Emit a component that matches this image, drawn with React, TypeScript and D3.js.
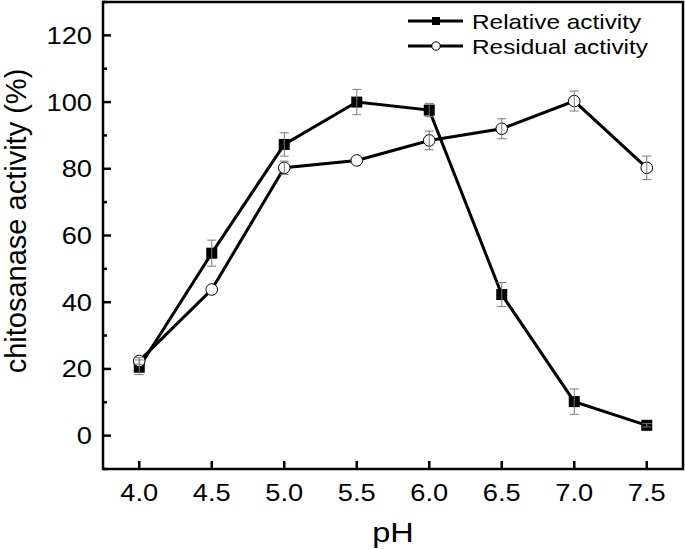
import React from "react";
import * as d3 from "d3";

const phValues = [4.0, 4.5, 5.0, 5.5, 6.0, 6.5, 7.0, 7.5];
const relativeActivity = [20.5, 54.7, 87.3, 100, 97.6, 42.3, 10.2, 3.1];
const relativeError = [2.2, 3.9, 3.5, 3.8, 2.0, 3.6, 3.8, 0.5];
const residualActivity = [22.4, 43.8, 80.3, 82.5, 88.5, 92.0, 100.3, 80.3];
const residualError = [1.0, 0, 2.0, 0, 2.8, 3.0, 3.0, 3.5];
const yTicks = [0, 20, 40, 60, 80, 100, 120];
const xTicks = [4.0, 4.5, 5.0, 5.5, 6.0, 6.5, 7.0, 7.5];

const W = 685;
const H = 549;
const margin = { top: 2, right: 2, bottom: 80, left: 103 };
const FONT = "Arial, 'Liberation Sans', sans-serif";
const SX = 1.16; // text in the picture is a bit wider than tall

export default function App() {
  const x = d3
    .scaleLinear()
    .domain([3.75, 7.75])
    .range([margin.left, W - margin.right]);
  const y = d3
    .scaleLinear()
    .domain([-10, 130])
    .range([H - margin.bottom, margin.top]);

  const line = d3
    .line<number>()
    .x((_, i) => x(phValues[i]))
    .y(d => y(d));

  const minorY = d3.range(-10, 131, 10).filter(v => v % 20 !== 0);

  const errBars = (vals: number[], errs: number[]) =>
    vals.map((v, i) => {
      if (!errs[i]) return null;
      const cx = x(phValues[i]);
      const t = y(v + errs[i]);
      const b = y(v - errs[i]);
      return (
        <g key={i} stroke="#7a7a7a" strokeWidth={1}>
          <line x1={cx} x2={cx} y1={t} y2={b} />
          <line x1={cx - 4.5} x2={cx + 4.5} y1={t} y2={t} />
          <line x1={cx - 4.5} x2={cx + 4.5} y1={b} y2={b} />
        </g>
      );
    });

  const [y0, y1] = y.range();
  const [x0, x1] = x.range();

  const wide = (tx: number, ty: number) => `translate(${tx},${ty}) scale(${SX},1)`;

  return (
    <div>
      <style>{"body{margin:0}"}</style>
      <svg width={W} height={H} style={{ display: "block", background: "#fff" }} fontFamily={FONT}>
        {/* ticks inward */}
        {yTicks.map(t => (
          <g key={t}>
            <line x1={x0} x2={x0 + 8} y1={y(t)} y2={y(t)} stroke="#000" strokeWidth={2.5} />
            <text transform={wide(x0 - 11, y(t) + 8.5)} textAnchor="end" fontSize={23.5}>
              {t}
            </text>
          </g>
        ))}
        {minorY.map(t => (
          <line key={t} x1={x0} x2={x0 + 4} y1={y(t)} y2={y(t)} stroke="#000" strokeWidth={2.5} />
        ))}
        {xTicks.map(t => (
          <g key={t}>
            <line x1={x(t)} x2={x(t)} y1={y0} y2={y0 - 8} stroke="#000" strokeWidth={2.5} />
            <text transform={wide(x(t), y0 + 32)} textAnchor="middle" fontSize={23.5}>
              {t.toFixed(1)}
            </text>
          </g>
        ))}

        {/* series lines */}
        <path d={line(relativeActivity) ?? ""} fill="none" stroke="#000" strokeWidth={3} />
        <path d={line(residualActivity) ?? ""} fill="none" stroke="#000" strokeWidth={3} />

        {relativeActivity.map((v, i) => (
          <rect key={i} x={x(phValues[i]) - 5.5} y={y(v) - 5.5} width={11} height={11} fill="#000" />
        ))}
        {residualActivity.map((v, i) => (
          <circle key={i} cx={x(phValues[i])} cy={y(v)} r={5.8} fill="#fff" stroke="#000" strokeWidth={1} />
        ))}

        {errBars(relativeActivity, relativeError)}
        {errBars(residualActivity, residualError)}

        {/* frame */}
        <rect x={x0} y={y1} width={x1 - x0} height={y0 - y1} fill="none" stroke="#000" strokeWidth={2.5} />

        {/* legend */}
        <g>
          <line x1={408} x2={463} y1={21} y2={21} stroke="#000" strokeWidth={3} />
          <rect x={432} y={17} width={8} height={8} fill="#000" />
          <text transform={wide(472, 29)} fontSize={21}>Relative activity</text>
          <line x1={408} x2={463} y1={46} y2={46} stroke="#000" strokeWidth={3} />
          <circle cx={436} cy={46} r={4.2} fill="#fff" stroke="#000" strokeWidth={1} />
          <text transform={wide(472, 54)} fontSize={21}>Residual activity</text>
        </g>

        {/* axis titles */}
        <text transform={wide((x0 + x1) / 2, 541.5)} textAnchor="middle" fontSize={28}>pH</text>
        <text
          transform={`translate(26, 221) rotate(-90)`}
          textAnchor="middle"
          fontSize={29}
        >
          chitosanase activity (%)
        </text>
      </svg>
    </div>
  );
}
